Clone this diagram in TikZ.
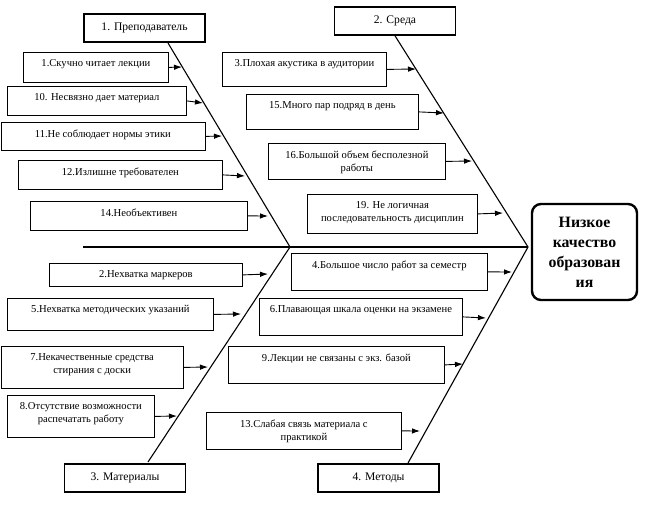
\documentclass[tikz,border=0pt]{standalone}
\usepackage{fontspec}
\setmainfont{Liberation Serif}
\usetikzlibrary{arrows.meta}

\begin{document}
\begin{tikzpicture}[x=1pt,y=-1pt,
		cat/.style={draw, line width=1.6pt, minimum width=121pt, minimum height=28pt, inner sep=0, font=\fontsize{11.6}{13}\selectfont},
		cause/.style={draw, line width=0.8pt, anchor=north west, inner sep=0},
		ctext/.style={anchor=north, yshift=-7.5pt, inner sep=0, align=center, font=\fontsize{10.6}{12.8}\selectfont},
		bone/.style={line width=1.1pt},
		arr/.style={-{Latex[length=8pt,width=5.5pt]}, line width=0.9pt}]
		
		\useasboundingbox (0,0) rectangle (647,513);
		
		%Marking coordinates of the skeleton
		\coordinate (tail) at (83,247);
		\coordinate (head) at (528,247);
		\coordinate (top1) at (168,43);
		\coordinate (j1) at (290,247);
		\coordinate (bot3) at (148,462);
		\coordinate (bot4) at (408,463);
		
		%Result
		\node[draw, rounded corners=9pt, line width=2.4pt, minimum width=105pt, minimum height=96pt, align=center, font=\fontsize{15.8}{20}\selectfont\bfseries] (effect) at (584.5,252) {Низкое\\качество\\образован\\ия};
		
		%Categories
		\node[cat] (cat1) at (144.5,28) {1. Преподаватель};
		\node[cat] (cat2) at (395,21) {2. Среда};
		\node[cat] (cat3) at (125,478) {3. Материалы};
		\node[cat] (cat4) at (378.5,478) {4. Методы};
		
		%Drawing the spine and the bones
		\draw[line width=1.8pt] (tail) -- (head);
		\draw[bone] (top1) -- (j1) -- (bot3);
		\draw[bone] (cat2.south) -- (head) -- (bot4);
		
		%Causes: teacher
		\node[cause, minimum width=145pt, minimum height=30pt, label={[ctext]north:1.Скучно читает лекции}] (c1) at (23,52) {};
		\node[cause, minimum width=179pt, minimum height=29pt, label={[ctext]north:10. Несвязно дает материал}] (c10) at (7,86) {};
		\node[cause, minimum width=204pt, minimum height=28pt, label={[ctext]north:11.Не соблюдает нормы этики}] (c11) at (0.5,122) {};
		\node[cause, minimum width=204pt, minimum height=29pt, label={[ctext]north:12.Излишне требователен}] (c12) at (18,160) {};
		\node[cause, minimum width=217pt, minimum height=29pt, label={[ctext]north:14.Необъективен}] (c14) at (30,201) {};
		
		%Causes: environment
		\node[cause, minimum width=164pt, minimum height=34pt, label={[ctext]north:3.Плохая акустика в аудитории}] (c3) at (222,52) {};
		\node[cause, minimum width=172pt, minimum height=35pt, label={[ctext]north:15.Много пар подряд в день}] (c15) at (246,94) {};
		\node[cause, minimum width=177pt, minimum height=36pt, label={[ctext]north:{16.Большой объем бесполезной\\работы}}] (c16) at (268,143) {};
		\node[cause, minimum width=170pt, minimum height=39pt, label={[ctext]north:{19. Не логичная\\последовательность дисциплин}}] (c19) at (307,194) {};
		
		%Causes: materials
		\node[cause, minimum width=193pt, minimum height=23pt, label={[ctext]north:2.Нехватка маркеров}] (c2) at (49,263) {};
		\node[cause, minimum width=206pt, minimum height=32pt, label={[ctext]north:5.Нехватка методических указаний}] (c5) at (7,298) {};
		\node[cause, minimum width=182.5pt, minimum height=42pt, label={[ctext]north:{7.Некачественные средства\\стирания с доски}}] (c7) at (0.5,346) {};
		\node[cause, minimum width=147pt, minimum height=42pt, label={[ctext]north:{8.Отсутствие возможности\\распечатать работу}}] (c8) at (7,395) {};
		
		%Causes: methods
		\node[cause, minimum width=196pt, minimum height=37pt, label={[ctext]north:4.Большое число работ за семестр}] (c4) at (291,253) {};
		\node[cause, minimum width=203pt, minimum height=37pt, label={[ctext]north:6.Плавающая шкала оценки на экзамене}] (c6) at (259,298) {};
		\node[cause, minimum width=216pt, minimum height=37pt, label={[ctext]north:9.Лекции не связаны с экз. базой}] (c9) at (228,346) {};
		\node[cause, minimum width=195pt, minimum height=37pt, label={[ctext]north:{13.Слабая связь материала с\\практикой}}] (c13) at (206,412) {};
		
		%Arrow tips on the bones
		\coordinate (t1) at (182,67);
		\coordinate (t10) at (203,103);
		\coordinate (t11) at (222,136);
		\coordinate (t12) at (245,176);
		\coordinate (t14) at (268,216);
		\coordinate (t3) at (416,69);
		\coordinate (t15) at (444,113);
		\coordinate (t16) at (472,161);
		\coordinate (t19) at (503,213);
		\coordinate (t2) at (268,274);
		\coordinate (t5) at (241,314);
		\coordinate (t7) at (208,367);
		\coordinate (t8) at (177,416);
		\coordinate (t4) at (512,272);
		\coordinate (t6) at (486,318);
		\coordinate (t9) at (463,364);
		\coordinate (t13) at (420,431);
		
		%Drawing arrows
		\foreach \n in {1,10,11,12,14,3,15,16,19,2,5,7,8,4,6,9,13}
		\draw[arr] (c\n.east) -- (t\n);
	\end{tikzpicture}
\end{document}
